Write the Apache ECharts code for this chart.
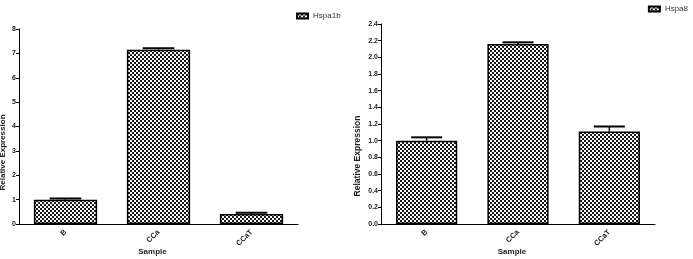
<!DOCTYPE html>
<html><head><meta charset="utf-8">
<script src="https://cdn.jsdelivr.net/npm/echarts@6/dist/echarts.min.js"></script>
<style>html,body{margin:0;padding:0;background:#fff}#c{width:693px;height:259px}</style>
</head><body><div id="c"></div>
<script>
var categories = ['B', 'CCa', 'CCaT'];
var hspa1bValues = [1.0, 7.15, 0.41];
var hspa1bUpper = [1.05, 7.21, 0.46];
var hspa8Values = [1.0, 2.16, 1.11];
var hspa8Upper = [1.04, 2.18, 1.17];
var leftTicks = {min: 0, max: 8, interval: 1};
var rightTicks = {min: 0, max: 2.4, interval: 0.2};

var cv = document.createElement('canvas');
cv.width = 4; cv.height = 4;
var cx = cv.getContext('2d');
cx.fillStyle = '#fff'; cx.fillRect(0,0,4,4);
cx.fillStyle = '#1a1a1a'; cx.fillRect(0,0,2,2); cx.fillRect(2,2,2,2);
var pattern = {image: cv, repeat: 'repeat'};

var F = 'Liberation Sans, Arial, sans-serif';
function errItem(params, api) {
  var i = api.value(0);
  var top = api.coord([i, api.value(2)]);
  var base = api.coord([i, api.value(1)]);
  var half = api.size([1, 0])[0] * 0.17;
  return {type: 'group', children: [
    {type: 'line', shape: {x1: top[0], y1: base[1], x2: top[0], y2: top[1]}, style: {stroke: '#000', lineWidth: 1.5}},
    {type: 'line', shape: {x1: top[0]-half, y1: top[1], x2: top[0]+half, y2: top[1]}, style: {stroke: '#000', lineWidth: 2}}
  ]};
}
function errData(vals, ups) { return vals.map(function(v, i){ return [i, v, ups[i]]; }); }

function xAxis(gi) {
  return {type: 'category', gridIndex: gi, data: categories,
    name: 'Sample', nameLocation: 'middle', nameGap: 24, nameMoveOverlap: false,
    nameTextStyle: {fontFamily: F, fontWeight: 'bold', fontSize: 8, color: '#222', padding: [0, 12, 0, 0]},
    axisLine: {lineStyle: {color: '#000', width: 1}},
    axisTick: {alignWithLabel: true, length: 3, lineStyle: {color: '#000'}},
    axisLabel: {rotate: 45, fontFamily: F, fontWeight: 'bold', fontSize: 7.5, color: '#222', margin: 7}};
}
function yAxis(gi, t, gap, dec, fs, shift) {
  return {type: 'value', gridIndex: gi, min: t.min, max: t.max, interval: t.interval,
    name: 'Relative Expression', nameLocation: 'middle', nameGap: gap, nameMoveOverlap: false,
    nameTextStyle: {fontFamily: F, fontWeight: 'bold', fontSize: fs, color: '#222', padding: [0, shift * 2, 0, 0]},
    splitLine: {show: false},
    axisLine: {show: true, lineStyle: {color: '#000', width: 1}},
    axisTick: {show: true, length: 3, lineStyle: {color: '#000'}},
    axisLabel: {fontFamily: F, fontWeight: 'bold', fontSize: 7, color: '#222', margin: 3,
      formatter: function(v){ return v.toFixed(dec); }}};
}

var chart = echarts.init(document.getElementById('c'), null, {renderer: 'canvas'});
chart.setOption({
  animation: false,
  grid: [
    {left: 19, right: 395, top: 29, bottom: 35, containLabel: false, outerBoundsMode: 'none'},
    {left: 381, right: 38, top: 24, bottom: 35, containLabel: false, outerBoundsMode: 'none'}
  ],
  xAxis: [xAxis(0), xAxis(1)],
  yAxis: [yAxis(0, leftTicks, 12, 0, 8, 26), yAxis(1, rightTicks, 19, 1, 8.5, 32)],
  legend: [
    {data: [{name: 'Hspa1b', icon: 'rect'}], left: 291, top: 7, itemWidth: 11, itemHeight: 5, itemGap: 4,
      textStyle: {fontFamily: F, fontSize: 8, color: '#333'}},
    {data: [{name: 'Hspa8', icon: 'rect'}], right: 0, top: 0, itemWidth: 11, itemHeight: 5, itemGap: 4,
      textStyle: {fontFamily: F, fontSize: 8, color: '#333'}}
  ],
  series: [
    {name: 'Hspa1b', type: 'bar', xAxisIndex: 0, yAxisIndex: 0, data: hspa1bValues, barCategoryGap: '32%',
      itemStyle: {color: pattern, borderColor: '#000', borderWidth: 1.5}},
    {name: 'Hspa8', type: 'bar', xAxisIndex: 1, yAxisIndex: 1, data: hspa8Values, barCategoryGap: '33%',
      itemStyle: {color: pattern, borderColor: '#000', borderWidth: 1.5}},
    {type: 'custom', xAxisIndex: 0, yAxisIndex: 0, renderItem: errItem, data: errData(hspa1bValues, hspa1bUpper), z: 3},
    {type: 'custom', xAxisIndex: 1, yAxisIndex: 1, renderItem: errItem, data: errData(hspa8Values, hspa8Upper), z: 3}
  ]
});
</script></body></html>
